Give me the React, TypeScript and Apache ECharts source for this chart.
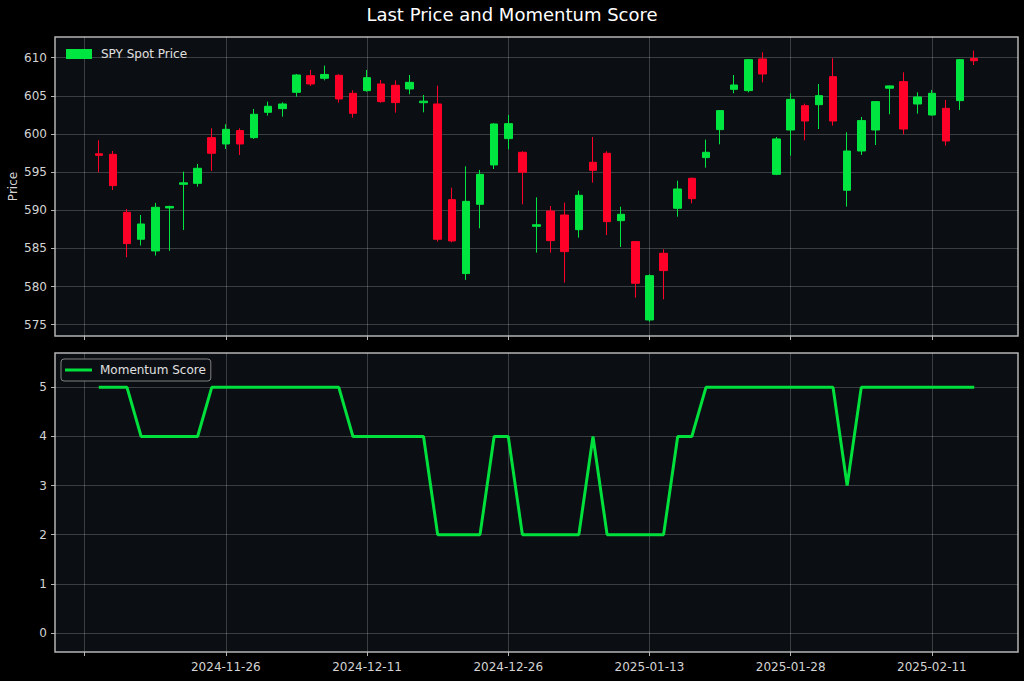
import React, { useEffect, useRef } from 'react';
import * as echarts from 'echarts';

const dates = [
  '2024-11-13', '2024-11-14', '2024-11-15', '2024-11-18', '2024-11-19', '2024-11-20', '2024-11-21', '2024-11-22',
  '2024-11-25', '2024-11-26', '2024-11-27', '2024-11-29', '2024-12-02', '2024-12-03', '2024-12-04', '2024-12-05',
  '2024-12-06', '2024-12-09', '2024-12-10', '2024-12-11', '2024-12-12', '2024-12-13', '2024-12-16', '2024-12-17',
  '2024-12-18', '2024-12-19', '2024-12-20', '2024-12-23', '2024-12-24', '2024-12-26', '2024-12-27', '2024-12-30',
  '2024-12-31', '2025-01-02', '2025-01-03', '2025-01-06', '2025-01-07', '2025-01-08', '2025-01-10', '2025-01-13',
  '2025-01-14', '2025-01-15', '2025-01-16', '2025-01-17', '2025-01-21', '2025-01-22', '2025-01-23', '2025-01-24',
  '2025-01-27', '2025-01-28', '2025-01-29', '2025-01-30', '2025-01-31', '2025-02-03', '2025-02-04', '2025-02-05',
  '2025-02-06', '2025-02-07', '2025-02-10', '2025-02-11', '2025-02-12', '2025-02-13', '2025-02-14',
];

const openPrices = [
  597.4, 597.33, 589.73, 586.2, 584.67, 590.3, 593.4, 593.53, 599.52, 598.69,
  600.44, 599.52, 602.84, 603.32, 605.46, 607.64, 607.3, 607.69, 605.33, 605.68,
  606.55, 606.38, 605.9, 604.1, 603.93, 591.39, 581.7, 590.78, 595.94, 599.39,
  597.6, 587.9, 589.9, 589.38, 587.46, 596.29, 597.47, 588.64, 585.89, 575.62,
  584.36, 590.26, 594.19, 596.9, 600.57, 605.85, 605.68, 609.83, 594.71, 600.52,
  603.71, 603.84, 607.51, 592.62, 597.77, 600.52, 606.0, 606.86, 603.93, 602.49,
  603.36, 604.37, 609.9,
];

const closePrices = [
  597.2, 593.23, 585.63, 588.2, 590.39, 590.5, 593.6, 595.5, 597.47, 600.61,
  598.69, 602.58, 603.63, 603.93, 607.73, 606.55, 607.8, 604.59, 602.71, 607.38,
  604.24, 604.11, 606.77, 604.3, 586.2, 585.98, 591.17, 594.71, 601.31, 601.35,
  594.98, 588.1, 586.02, 584.58, 591.96, 595.24, 588.51, 589.47, 580.43, 581.43,
  582.09, 592.79, 591.52, 597.6, 603.06, 606.42, 609.74, 607.86, 599.35, 604.54,
  601.7, 605.02, 601.7, 597.77, 601.75, 604.24, 606.3, 600.65, 604.85, 605.33,
  599.08, 609.74, 609.6,
];

const lowPrices = [
  594.98, 592.66, 583.84, 585.37, 584.06, 584.67, 587.42, 593.1, 595.15, 598.03,
  597.25, 599.35, 602.4, 602.27, 604.9, 606.29, 607.03, 604.11, 602.14, 605.55,
  604.1, 602.8, 605.2, 602.84, 585.89, 585.8, 580.87, 587.64, 595.41, 597.99,
  590.78, 584.45, 584.45, 580.52, 586.41, 593.62, 586.76, 585.19, 578.55, 575.4,
  578.33, 589.16, 590.91, 595.59, 598.65, 605.33, 605.46, 606.77, 594.6, 597.16,
  599.17, 600.65, 601.09, 590.48, 597.25, 598.56, 602.58, 599.96, 602.66, 602.4,
  598.47, 603.15, 609.04,
];

const highPrices = [
  599.17, 597.77, 590.17, 589.38, 590.96, 590.6, 595.06, 596.07, 600.74, 601.27,
  600.74, 603.28, 604.24, 604.15, 607.86, 608.39, 608.96, 607.82, 605.72, 608.39,
  607.08, 607.03, 607.73, 605.11, 606.33, 592.97, 595.76, 595.28, 601.4, 602.49,
  597.73, 591.7, 590.56, 591.0, 592.57, 599.61, 597.73, 590.47, 585.95, 581.61,
  584.88, 593.88, 594.28, 599.26, 603.1, 607.73, 609.8, 610.7, 599.61, 605.33,
  603.98, 606.55, 609.92, 600.22, 602.23, 604.3, 606.35, 608.08, 605.46, 605.77,
  604.46, 609.83, 610.92,
];

const momentumScore = [
  5, 5, 5, 4, 4, 4, 4, 4, 5, 5, 5, 5, 5, 5, 5, 5, 5, 5, 4, 4, 4, 4, 4, 4,
  2, 2, 2, 2, 4, 4, 2, 2, 2, 2, 2, 4, 2, 2, 2, 2, 2, 4, 4,
  5, 5, 5, 5, 5, 5, 5, 5, 5, 5, 3, 5, 5, 5, 5, 5, 5, 5, 5, 5,
];

const xTickIndices = [-1, 9, 19, 29, 39, 49, 59];
const xLabelIndices = [9, 19, 29, 39, 49, 59];
const priceTicks = [575, 580, 585, 590, 595, 600, 605, 610];
const scoreTicks = [0, 1, 2, 3, 4, 5];

const GREEN = '#00e640';
const LINE_GREEN = '#00e03c';
const RED = '#ff0028';
const PLOT_BG = '#0b0e12';
const FRAME = '#b4b4b4';
const GRID = 'rgba(255,255,255,0.2)';
const LABEL = '#d4d4d4';
const FONT = 'DejaVu Sans';

export default function App() {
  const ref = useRef<HTMLDivElement>(null);

  useEffect(() => {
    const chart = echarts.init(ref.current as HTMLDivElement, null, { renderer: 'svg' });
    const candleData = dates.map((_, i) => [i, openPrices[i], closePrices[i], lowPrices[i], highPrices[i]]);
    const scoreData = dates.map((_, i) => [i, momentumScore[i]]);

    const xBase = (gridIndex: number, showLabels: boolean) => ({
      type: 'value',
      gridIndex,
      min: -3.1,
      max: 65.1,
      axisLine: { show: false, onZero: false },
      axisTick: { show: true, customValues: xTickIndices, length: 4, lineStyle: { color: FRAME, width: 1 } },
      axisLabel: {
        show: showLabels,
        customValues: xLabelIndices,
        color: LABEL,
        fontSize: 12,
        fontFamily: FONT,
        margin: 9,
        formatter: (v: number) => dates[Math.round(v)] ?? '',
      },
      splitLine: { show: true, lineStyle: { color: GRID, width: 1 } },
    });

    chart.setOption({
      animation: false,
      backgroundColor: '#000000',
      textStyle: { fontFamily: FONT },
      title: {
        text: 'Last Price and Momentum Score',
        left: 'center',
        top: 0,
        textStyle: { color: '#ffffff', fontSize: 18, fontWeight: 'normal', fontFamily: FONT },
      },
      legend: [
        {
          left: 66,
          top: 48,
          padding: 0,
          selectedMode: false,
          itemWidth: 24,
          itemHeight: 8,
          data: [{ name: 'SPY Spot Price', icon: 'rect', itemStyle: { color: GREEN } }],
          textStyle: { color: '#e0e0e0', fontSize: 12, fontFamily: FONT, padding: [0, 0, 0, 5] },
        },
        {
          left: 61,
          top: 359,
          padding: [5, 5, 5, 4],
          selectedMode: false,
          borderColor: '#808080',
          borderWidth: 1,
          borderRadius: 3,
          backgroundColor: PLOT_BG,
          itemWidth: 27,
          itemHeight: 3,
          data: [{ name: 'Momentum Score', icon: 'rect', itemStyle: { color: LINE_GREEN } }],
          textStyle: { color: '#e0e0e0', fontSize: 12, fontFamily: FONT, padding: [0, 0, 0, 3] },
        },
      ],
      grid: [
        {
          left: 55, right: 6, top: 37, height: 299, containLabel: false, outerBoundsMode: 'none',
          show: true, backgroundColor: PLOT_BG, borderColor: FRAME, borderWidth: 1.5,
        },
        {
          left: 55, right: 6, top: 353, height: 299, containLabel: false, outerBoundsMode: 'none',
          show: true, backgroundColor: PLOT_BG, borderColor: FRAME, borderWidth: 1.5,
        },
      ],
      xAxis: [xBase(0, false), xBase(1, true)],
      yAxis: [
        {
          type: 'value',
          gridIndex: 0,
          min: 573.52,
          max: 612.71,
          name: 'Price',
          nameLocation: 'middle',
          nameGap: 36,
          nameMoveOverlap: false,
          nameTextStyle: { color: LABEL, fontSize: 12, fontFamily: FONT },
          axisLine: { show: false, onZero: false },
          axisTick: { show: true, customValues: priceTicks, length: 4, lineStyle: { color: FRAME } },
          axisLabel: { customValues: priceTicks, color: LABEL, fontSize: 12, fontFamily: FONT, margin: 8 },
          splitLine: { show: true, lineStyle: { color: GRID, width: 1 } },
        },
        {
          type: 'value',
          gridIndex: 1,
          min: -0.39,
          max: 5.7,
          axisLine: { show: false, onZero: false },
          axisTick: { show: true, customValues: scoreTicks, length: 4, lineStyle: { color: FRAME } },
          axisLabel: { customValues: scoreTicks, color: LABEL, fontSize: 12, fontFamily: FONT, margin: 8 },
          splitLine: { show: true, lineStyle: { color: GRID, width: 1 } },
        },
      ],
      series: [
        {
          name: 'SPY Spot Price',
          type: 'candlestick',
          xAxisIndex: 0,
          yAxisIndex: 0,
          barWidth: 8,
          data: candleData,
          itemStyle: {
            color: GREEN,
            color0: RED,
            borderColor: GREEN,
            borderColor0: RED,
            borderWidth: 1,
          },
        },
        {
          name: 'Momentum Score',
          type: 'line',
          xAxisIndex: 1,
          yAxisIndex: 1,
          data: scoreData,
          showSymbol: false,
          symbol: 'none',
          lineStyle: { color: LINE_GREEN, width: 3 },
          itemStyle: { color: LINE_GREEN },
        },
      ],
    });

    return () => chart.dispose();
  }, []);

  return (
    <div
      ref={ref}
      style={{ position: 'fixed', left: 0, top: 0, width: 1024, height: 681, background: '#000000' }}
    />
  );
}
